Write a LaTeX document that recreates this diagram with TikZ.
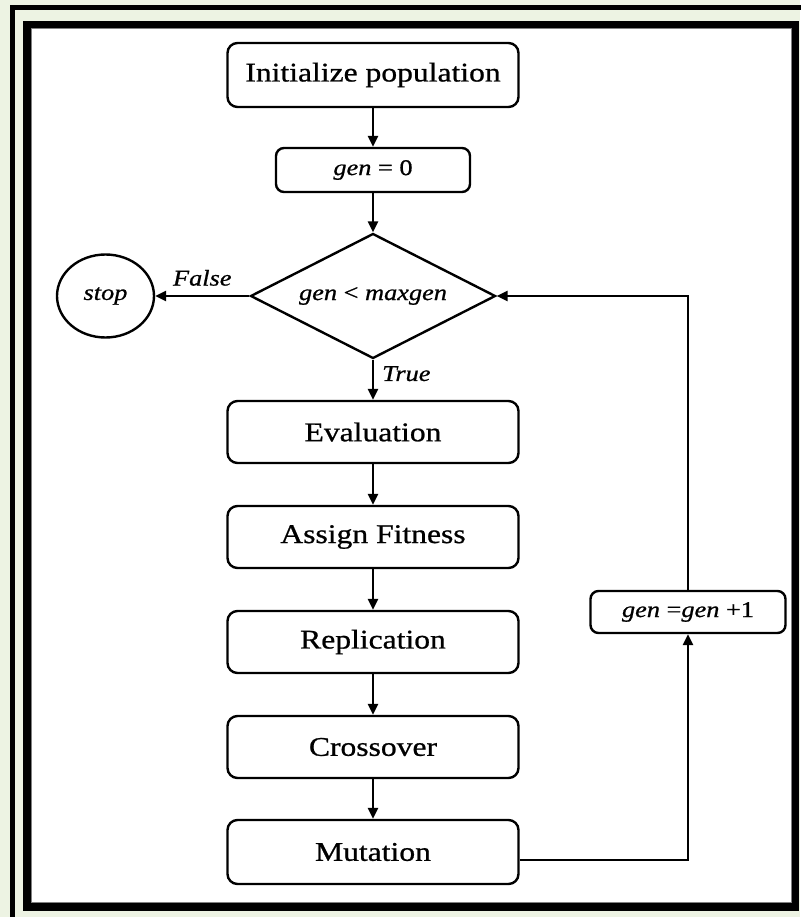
\documentclass[tikz,border=0pt]{standalone}
\usepackage{fontspec}
\setmainfont{Liberation Serif}[FakeStretch=1.17,FakeBold=0.8]
\usetikzlibrary{shapes.geometric,arrows.meta}
\definecolor{bggreen}{RGB}{237,243,227}
\begin{document}
\begin{tikzpicture}[x=1pt,y=-1pt,
  box/.style={draw, line width=2.4pt, rounded corners=10pt, minimum width=291pt, minimum height=62pt, inner sep=0pt, font=\fontsize{27}{30}\selectfont},
  sbox/.style={draw, line width=2.4pt, rounded corners=8pt, inner sep=0pt, font=\fontsize{22.5}{26}\selectfont\itshape},
  lbl/.style={inner sep=0pt, font=\fontsize{22.5}{26}\selectfont\itshape},
  arr/.style={line width=2.4pt, -{Triangle[length=11pt,width=10pt]}},
  ln/.style={line width=2.4pt}]
\useasboundingbox (0,0) rectangle (800,917);
\fill[bggreen] (0,0) rectangle (800,917);
% outer frame
\draw[line width=5pt] (12.5,7.5) rectangle (812,930);
% inner frame
\fill[white] (27,24.5) rectangle (795.5,907);
\draw[line width=7.5pt] (27,24.5) rectangle (795.5,907);
\draw[gray, line width=0.8pt] (31.2,28.7) rectangle (791.3,902.8);

\node[box, minimum height=64pt] (init) at (373,75) {Initialize population};
\node[sbox, minimum width=194pt, minimum height=44pt] (gen0) at (373,170) {gen {\upshape= 0}};
\node[draw, line width=2.4pt, diamond, aspect=2, inner sep=0pt, minimum width=245pt, minimum height=125pt, font=\fontsize{22.5}{26}\selectfont\itshape] (dec) at (373,296) {gen {\upshape<} maxgen};
\node[draw, line width=2.4pt, ellipse, inner sep=0pt, minimum width=97pt, minimum height=83pt, font=\fontsize{22.5}{26}\selectfont\itshape] (stop) at (105.5,296) {stop};
\node[box] (eval) at (373,432) {Evaluation};
\node[box] (fit) at (373,537) {Assign Fitness};
\node[box] (rep) at (373,642) {Replication};
\node[box] (cross) at (373,747) {Crossover};
\node[box, minimum height=64pt] (mut) at (373,852) {Mutation};
\node[sbox, minimum width=195pt, minimum height=42pt] (gen1) at (688,612) {gen {\upshape=}gen {\upshape+1}};

\draw[arr] (init) -- (gen0);
\draw[arr] (gen0) -- (dec.north);
\draw[arr] (dec.west) -- (stop.east) node[lbl, midway, above=9pt] (flabel) {False};
\draw[arr] (dec.south) -- (eval.north) node[lbl, pos=0.35, right=8pt] (tlabel) {True};
\draw[arr] (eval) -- (fit);
\draw[arr] (fit) -- (rep);
\draw[arr] (rep) -- (cross);
\draw[arr] (cross) -- (mut);
\draw[arr] ([yshift=-8pt]mut.east) -| (gen1.south);
\draw[arr] (gen1.north) |- (dec.east);
\end{tikzpicture}
\end{document}
